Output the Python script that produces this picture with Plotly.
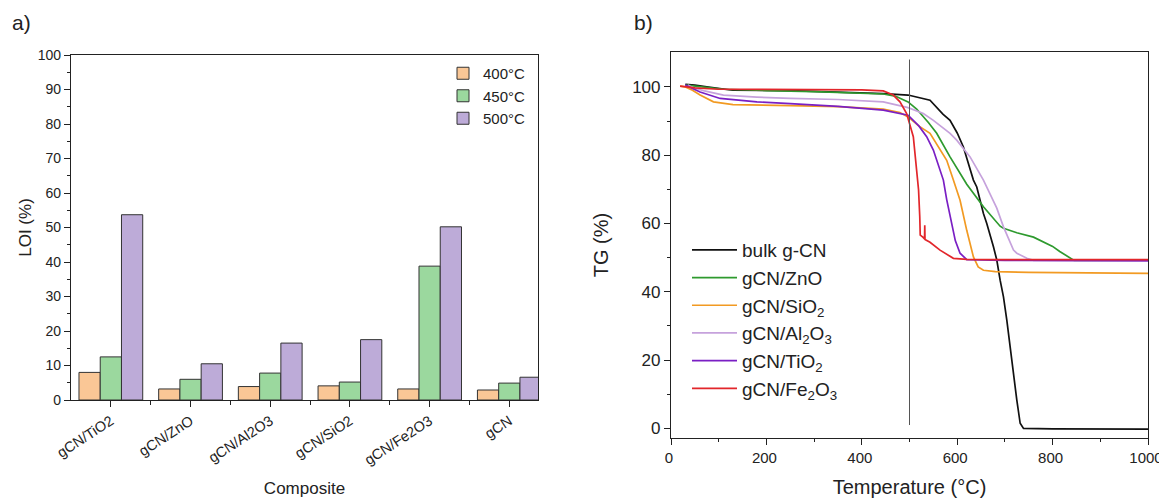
import plotly.graph_objects as go

# ---------------- Data: panel a) ----------------
composites = ["gCN/TiO2", "gCN/ZnO", "gCN/Al2O3", "gCN/SiO2", "gCN/Fe2O3", "gCN"]
loi_400 = [8.0, 3.2, 3.9, 4.1, 3.2, 2.9]
loi_450 = [12.5, 6.0, 7.8, 5.2, 38.8, 4.9]
loi_500 = [53.7, 10.5, 16.5, 17.5, 50.2, 6.6]
bar_names = ["400°C", "450°C", "500°C"]

# ---------------- Data: panel b) ----------------
bulk_x = [30, 50, 75, 130, 250, 350, 445, 497, 520, 543, 570, 585, 600, 613, 634, 641, 655, 662, 676, 683, 690, 697, 704, 714, 725, 732, 739, 800, 1000]
bulk_y = [100.7, 100.5, 100.0, 99.0, 98.9, 98.5, 98.0, 97.6, 96.8, 96.1, 92.0, 90.2, 86.5, 82.4, 72.7, 70.7, 62.9, 60.0, 53.2, 49.3, 43.4, 38.5, 31.7, 20.0, 8.3, 1.5, 0.0, -0.1, -0.2]

zno_x = [32, 60, 110, 200, 300, 445, 470, 497, 515, 540, 557, 585, 606, 620, 655, 690, 697, 725, 760, 781, 800, 815, 830, 845, 900, 1000]
zno_y = [100.5, 100.0, 99.3, 98.9, 98.6, 97.9, 97.3, 95.6, 93.5, 89.5, 86.4, 79.5, 74.5, 71.5, 64.9, 59.2, 58.6, 57.3, 56.0, 54.5, 53.3, 51.8, 50.5, 49.2, 49.2, 49.2]

sio2_x = [19, 29, 45, 61, 89, 130, 250, 350, 445, 480, 497, 520, 543, 578, 592, 606, 620, 634, 644, 655, 680, 750, 1000]
sio2_y = [100.2, 100.0, 99.0, 97.6, 95.6, 94.8, 94.5, 94.2, 93.5, 92.5, 91.2, 88.5, 86.4, 78.5, 72.7, 66.8, 58.0, 50.2, 47.3, 46.3, 45.9, 45.7, 45.4]

al2o3_x = [35, 46, 70, 110, 180, 250, 350, 445, 497, 529, 550, 585, 599, 627, 655, 669, 683, 697, 711, 718, 725, 746, 760, 1000]
al2o3_y = [100.5, 99.8, 98.8, 97.6, 97.0, 96.6, 96.3, 95.6, 93.9, 92.2, 90.2, 86.4, 84.4, 79.5, 72.7, 68.8, 64.5, 59.0, 54.2, 52.2, 51.3, 49.8, 49.2, 49.0]

tio2_x = [30, 61, 103, 180, 250, 350, 445, 497, 520, 536, 550, 564, 571, 578, 592, 596, 606, 613, 620, 700, 1000]
tio2_y = [100.5, 98.5, 96.6, 95.6, 95.1, 94.3, 93.2, 91.7, 88.5, 85.4, 81.5, 75.5, 72.7, 67.0, 58.0, 55.0, 51.3, 50.2, 49.4, 49.2, 49.1]

fe2o3_x = [19, 50, 100, 200, 300, 400, 445, 466, 480, 494, 508, 515, 519, 521.5, 522.5, 528, 531.5, 532, 532.5, 543, 564, 592, 620, 700, 1000]
fe2o3_y = [100.2, 99.7, 99.3, 99.2, 99.2, 99.1, 98.8, 97.6, 95.6, 92.2, 85.4, 75.6, 69.8, 62.0, 56.6, 56.0, 55.5, 59.5, 55.3, 54.5, 52.2, 49.8, 49.5, 49.4, 49.4]

marker_x = [500, 500]
marker_y = [1, 108]

tg_series = [
    ("bulk g-CN", bulk_x, bulk_y, "#111111"),
    ("gCN/ZnO", zno_x, zno_y, "#2E9A2E"),
    ("gCN/SiO<sub>2</sub>", sio2_x, sio2_y, "#F29A22"),
    ("gCN/Al<sub>2</sub>O<sub>3</sub>", al2o3_x, al2o3_y, "#C6A2DC"),
    ("gCN/TiO<sub>2</sub>", tio2_x, tio2_y, "#7A1FC4"),
    ("gCN/Fe<sub>2</sub>O<sub>3</sub>", fe2o3_x, fe2o3_y, "#E2262B"),
]

FONT = "Liberation Sans, Arial, sans-serif"
PAGE_OFF = 8          # default body margin of the html page
W, H = 1167 - PAGE_OFF, 498 - PAGE_OFF


def fx(page_x):
    return (page_x - PAGE_OFF) / W


def fy(page_y):
    return (H - (page_y - PAGE_OFF)) / H


fig = go.Figure()

positions = list(range(1, len(composites) + 1))
bar_colors = ["#FAC796", "#9BD89E", "#BDABD8"]
for name, vals, col in zip(bar_names, [loi_400, loi_450, loi_500], bar_colors):
    fig.add_trace(go.Bar(
        x=positions, y=vals, name=name,
        marker=dict(color=col, line=dict(color="#333333", width=1)),
        xaxis="x", yaxis="y", legend="legend",
    ))

for name, xs, ys, col in tg_series:
    fig.add_trace(go.Scatter(
        x=xs, y=ys, name=name, mode="lines",
        line=dict(color=col, width=1.7),
        xaxis="x2", yaxis="y2", legend="legend2",
    ))

fig.add_trace(go.Scatter(
    x=marker_x, y=marker_y, mode="lines", showlegend=False,
    line=dict(color="#555555", width=1), xaxis="x2", yaxis="y2",
))

axis_common = dict(
    showline=True, linecolor="#222222", linewidth=1.2, mirror=True,
    showgrid=False, zeroline=False, ticks="outside", tickcolor="#222222",
    tickwidth=1.2, automargin=False, ticklabeloverflow="allow",
)

fig.update_layout(
    width=W, height=H,
    margin=dict(l=0, r=0, t=0, b=0),
    paper_bgcolor="white", plot_bgcolor="white",
    font=dict(family=FONT, color="#222222"),
    barmode="group", bargap=0.2, bargroupgap=0.0,
    xaxis=dict(
        domain=[fx(71), fx(538)], anchor="y",
        range=[0.5, 6.36],
        tickmode="array", tickvals=positions, ticktext=composites,
        tickangle=-33, ticklen=6, tickfont=dict(size=14.5),
        minor=dict(tickmode="array", tickvals=[1.5, 2.5, 3.5, 4.5, 5.5],
                   ticks="outside", ticklen=4, tickcolor="#222222"),
        title=dict(text="Composite", font=dict(size=17), standoff=26),
        **axis_common,
    ),
    yaxis=dict(
        domain=[fy(400), fy(55)], anchor="x",
        range=[0, 100], dtick=10, ticklen=6, tickfont=dict(size=14),
        minor=dict(dtick=5, ticks="outside", ticklen=3, tickcolor="#222222"),
        title=dict(text="LOI (%)", font=dict(size=17), standoff=1),
        **axis_common,
    ),
    xaxis2=dict(
        domain=[fx(671), fx(1148)], anchor="y2",
        range=[0, 1000], dtick=200, ticklen=6, tickfont=dict(size=15),
        ticklabelshift=-2,
        minor=dict(dtick=100, ticks="outside", ticklen=3, tickcolor="#222222"),
        title=dict(text="Temperature (°C)", font=dict(size=20), standoff=24),
        **axis_common,
    ),
    yaxis2=dict(
        domain=[fy(438), fy(52)], anchor="x2",
        range=[-2.8, 110.2], tickvals=[0, 20, 40, 60, 80, 100], ticklen=6,
        tickfont=dict(size=17),
        minor=dict(tickvals=[10, 30, 50, 70, 90], ticks="outside", ticklen=3,
                   tickcolor="#222222"),
        title=dict(text="TG (%)", font=dict(size=20), standoff=18),
        **axis_common,
    ),
    legend=dict(
        x=fx(443), y=fy(57), xanchor="left", yanchor="top",
        bgcolor="rgba(0,0,0,0)", font=dict(size=15), tracegroupgap=0,
    ),
    legend2=dict(
        x=fx(687), y=fy(231), xanchor="left", yanchor="top",
        bgcolor="rgba(0,0,0,0)", font=dict(size=19), tracegroupgap=0,
        itemwidth=45,
    ),
    annotations=[
        dict(text="a)", x=fx(10), y=fy(22), xref="paper", yref="paper",
             xanchor="left", yanchor="middle", showarrow=False,
             font=dict(size=21)),
        dict(text="b)", x=fx(632), y=fy(22), xref="paper", yref="paper",
             xanchor="left", yanchor="middle", showarrow=False,
             font=dict(size=21)),
    ],
)

fig.write_html("out.html")
